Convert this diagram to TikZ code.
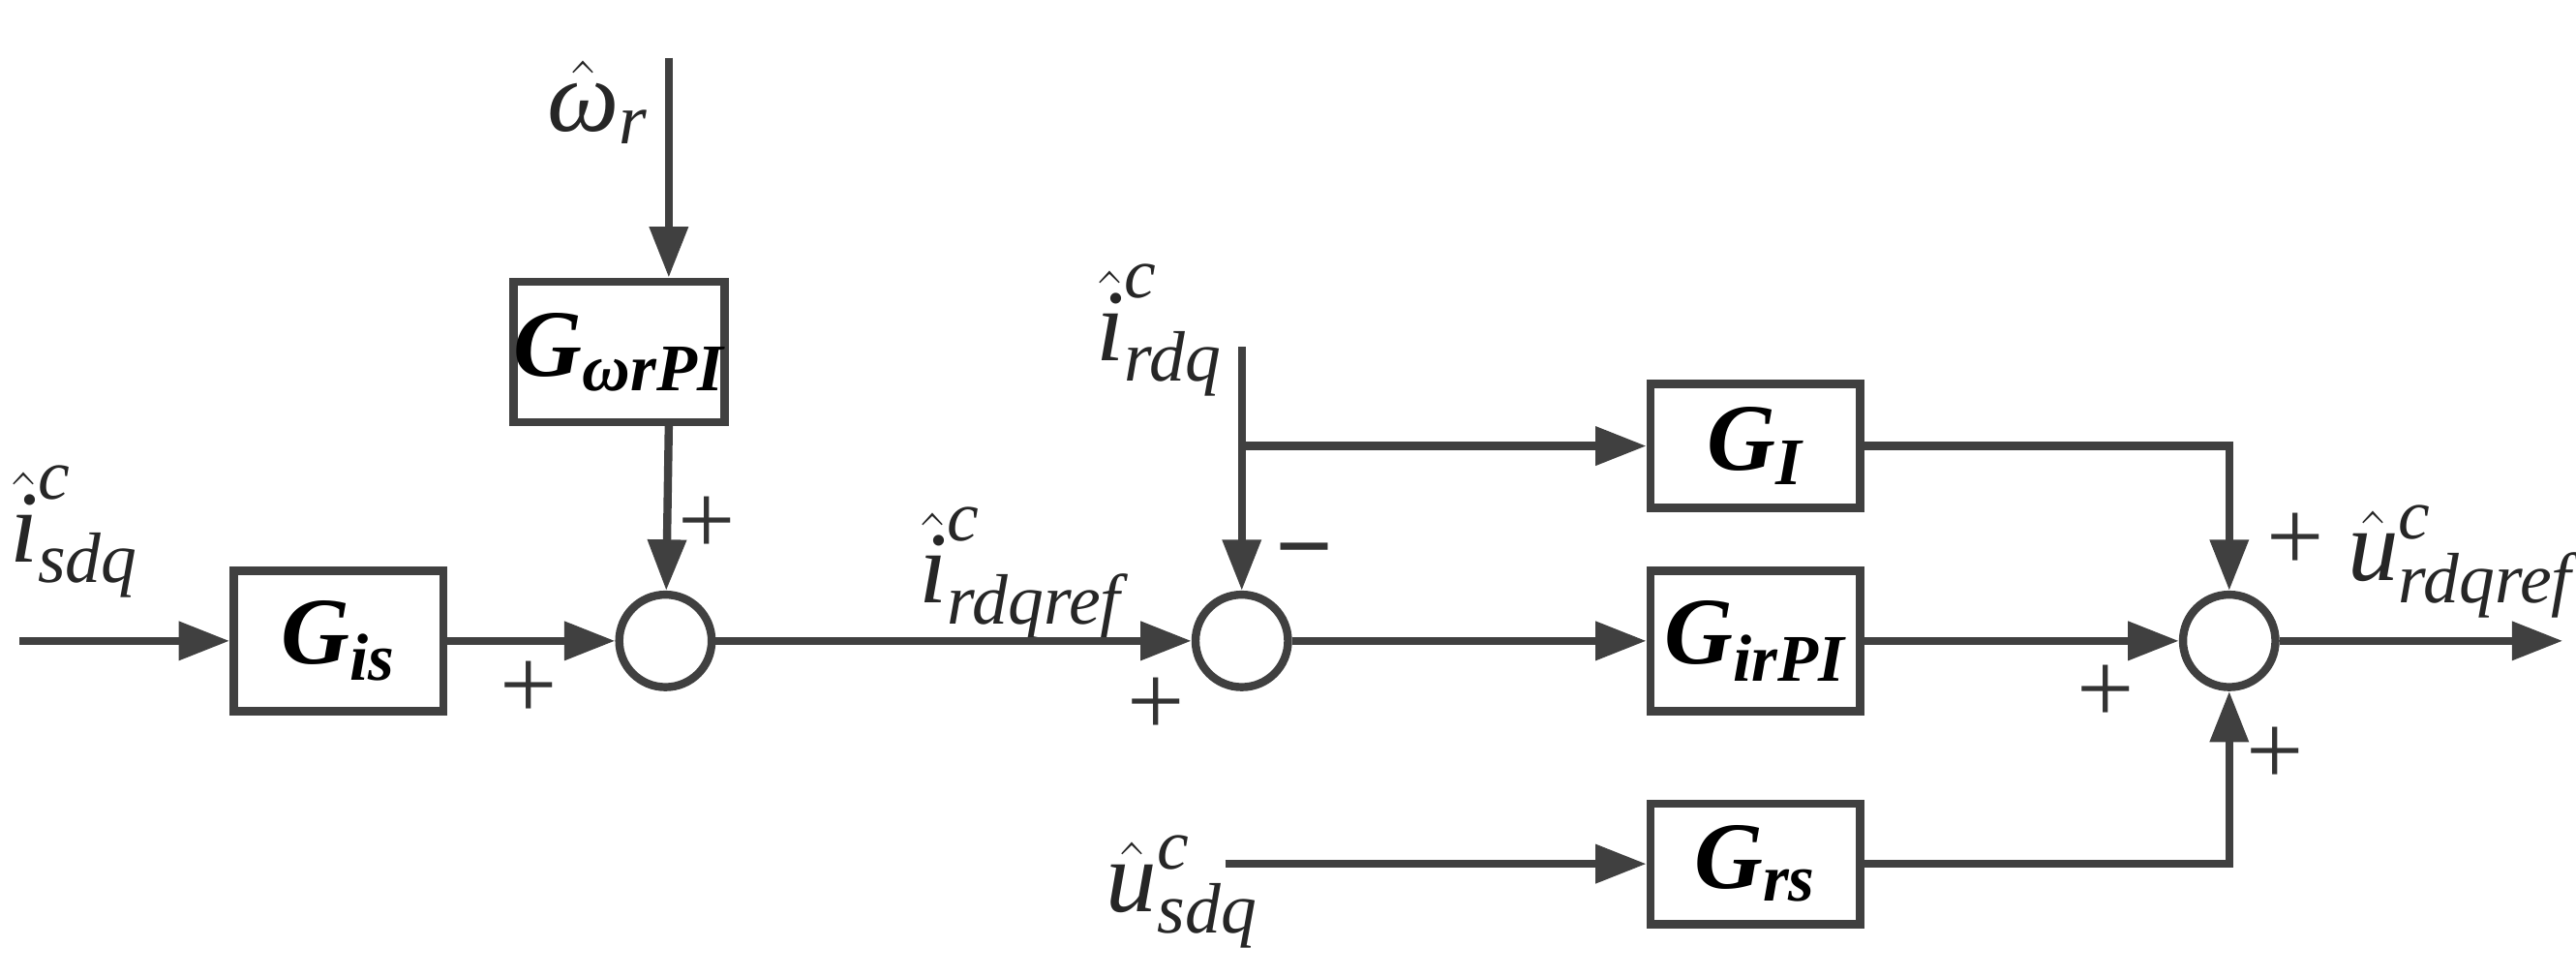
\documentclass[tikz,border=0pt]{standalone}
\usepackage{amsmath}
\usepackage{fontspec}
\setmainfont{Liberation Serif}
\usetikzlibrary{arrows.meta}
\newcommand{\ti}[1]{\textit{#1}}
\begin{document}
\begin{tikzpicture}[x=0.01709cm,y=-0.01709cm,
  line width=2.4pt,
  arr/.style={draw=black!75, -{Triangle[length=15pt,width=11pt]}},
  blk/.style={draw=black!75, line width=2.4pt, minimum width=127*0.01709cm, minimum height=85*0.01709cm, inner sep=0pt, font=\fontsize{28}{30}\selectfont\bfseries\itshape},
  sm/.style={circle, draw=black!75, line width=2.4pt, minimum size=56*0.01709cm, inner sep=0pt},
  lbl/.style={font=\fontsize{30}{32}\selectfont, text=black!85, inner sep=0pt},
  sgn/.style={font=\fontsize{30}{32}\selectfont, text=black!80, inner sep=0pt}]
\path[use as bounding box] (0,0) rectangle (1560,592);
\node[blk] (gis) at (205,388) {G\textsubscript{is}};
\node[sm] (s1) at (403,388) {};
\node[blk] (gw) at (375,213) {G\textsubscript{ωrPI}};
\node[sm] (s2) at (752,388) {};
\node[blk, minimum height=75*0.01709cm] (gi) at (1063,270) {G\textsubscript{I}};
\node[blk] (gir) at (1063,388) {G\textsubscript{irPI}};
\node[blk, minimum height=73*0.01709cm] (grs) at (1063,523) {G\textsubscript{rs}};
\node[sm] (s3) at (1350,388) {};
\coordinate (in) at (12,388);
\coordinate (wtop) at (405,35);
\coordinate (irtop) at (752,210);
\coordinate (br) at (752,270);
\coordinate (us) at (742,523);
\coordinate (out) at (1552,388);
\node[lbl] (lis) at (45,322) {$\hat{\ti{i}}^{\ti{c}}_{\ti{sdq}}$};
\node[lbl] (lw) at (362,62) {$\hat{\ti{ω}}_{\ti{r}}$};
\node[lbl] (lref) at (618,347) {$\hat{\ti{i}}^{\ti{c}}_{\ti{rdqref}}$};
\node[lbl] (lir) at (702,200) {$\hat{\ti{i}}^{\ti{c}}_{\ti{rdq}}$};
\node[lbl] (lus) at (716,540) {$\hat{\ti{u}}^{\ti{c}}_{\ti{sdq}}$};
\node[lbl] (lout) at (1490,340) {$\hat{\ti{u}}^{\ti{c}}_{\ti{rdqref}}$};
\draw[arr] (in) -- (gis);
\draw[arr] (gis) -- (s1);
\draw[arr] (wtop) -- (wtop|-gw.north);
\draw[arr] (wtop|-gw.south) -- (s1);
\draw[arr] (s1) -- (s2);
\draw[arr] (irtop) -- (s2);
\draw[arr] (br) -- (gi);
\draw[arr] (s2) -- (gir);
\draw[arr] (gir) -- (s3);
\draw[arr] (us) -- (grs);
\draw[arr] (gi) -| (s3);
\draw[arr] (grs) -| (s3);
\draw[arr] (s3) -- (out);
\node[sgn] (p1) at (428,318) {+};
\node[sgn] (p2) at (320,418) {+};
\node[sgn] (m1) at (790,340) {\textbf{−}};
\node[sgn] (p3) at (700,428) {+};
\node[sgn] (p4) at (1390,328) {+};
\node[sgn] (p5) at (1275,420) {+};
\node[sgn] (p6) at (1378,458) {+};
\end{tikzpicture}
\end{document}
